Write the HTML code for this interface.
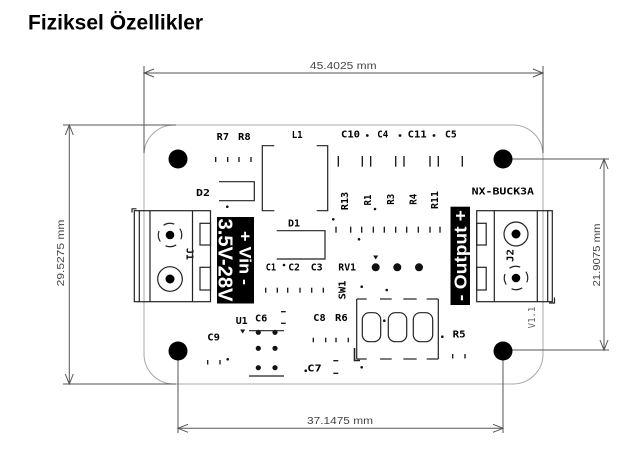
<!DOCTYPE html>
<html><head><meta charset="utf-8"><style>
html,body{margin:0;padding:0;background:#fff;}
svg{display:block;}
.lbl{font-family:"DejaVu Sans Mono","Liberation Mono",monospace;font-weight:bold;font-size:10px;fill:#000;}
.dim{font-family:"Liberation Sans",sans-serif;font-size:10px;fill:#444;}
</style></head><body>
<svg width="644" height="464" viewBox="0 0 644 464" xmlns="http://www.w3.org/2000/svg">
<rect width="644" height="464" fill="#fff"/>
<text x="28" y="29.5" font-family="Liberation Sans, sans-serif" font-weight="bold" font-size="21" fill="#000">Fiziksel Özellikler</text>

<rect x="144" y="125" width="399" height="259" rx="30" ry="30" fill="none" stroke="#a8a8a8" stroke-width="1"/>

<g stroke="#555" stroke-width="1" fill="none">
  <line x1="144" y1="66" x2="144" y2="153"/>
  <line x1="543" y1="66" x2="543" y2="153"/>
  <line x1="144" y1="73" x2="543" y2="73"/>
  <polyline points="154,69 144,73 154,77"/>
  <polyline points="533,69 543,73 533,77"/>
  <line x1="63" y1="125" x2="176" y2="125"/>
  <line x1="63" y1="384" x2="176" y2="384"/>
  <line x1="69.3" y1="125" x2="69.3" y2="384"/>
  <polyline points="65.3,135 69.3,125 73.3,135"/>
  <polyline points="65.3,374 69.3,384 73.3,374"/>
  <line x1="503" y1="159" x2="609" y2="159"/>
  <line x1="503" y1="350" x2="609" y2="350"/>
  <line x1="604" y1="159" x2="604" y2="350"/>
  <polyline points="600,169 604,159 608,169"/>
  <polyline points="600,340 604,350 608,340"/>
  <line x1="178" y1="351" x2="178" y2="433"/>
  <line x1="503" y1="351" x2="503" y2="433"/>
  <line x1="178" y1="428.3" x2="503" y2="428.3"/>
  <polyline points="188,424.3 178,428.3 188,432.3"/>
  <polyline points="493,424.3 503,428.3 493,432.3"/>
</g>
<text class="dim" x="343.3" y="69" text-anchor="middle" textLength="66.7" lengthAdjust="spacingAndGlyphs">45.4025 mm</text>
<text class="dim" transform="translate(64,253) rotate(-90)" text-anchor="middle" textLength="66.7" lengthAdjust="spacingAndGlyphs">29.5275 mm</text>
<text class="dim" transform="translate(600,255) rotate(-90)" text-anchor="middle" textLength="63" lengthAdjust="spacingAndGlyphs">21.9075 mm</text>
<text class="dim" x="340" y="424" text-anchor="middle" textLength="66" lengthAdjust="spacingAndGlyphs">37.1475 mm</text>

<g fill="#000">
  <circle cx="178" cy="159" r="9.5"/>
  <circle cx="503" cy="159" r="9.5"/>
  <circle cx="178" cy="351" r="9.5"/>
  <circle cx="503" cy="351" r="9.5"/>
</g>

<g class="lbl">
  <text x="216.7" y="140" textLength="12.3" lengthAdjust="spacingAndGlyphs">R7</text>
  <text x="238" y="140" textLength="12.7" lengthAdjust="spacingAndGlyphs">R8</text>
  <text x="291.7" y="138" textLength="11" lengthAdjust="spacingAndGlyphs">L1</text>
  <text x="341" y="137.3" textLength="19" lengthAdjust="spacingAndGlyphs">C10</text>
  <text x="377.3" y="137.3" textLength="11" lengthAdjust="spacingAndGlyphs">C4</text>
  <text x="407.7" y="137.3" textLength="19" lengthAdjust="spacingAndGlyphs">C11</text>
  <text x="445" y="137.3" textLength="11.7" lengthAdjust="spacingAndGlyphs">C5</text>
  <text x="196" y="196" textLength="14" lengthAdjust="spacingAndGlyphs">D2</text>
  <text x="288" y="226.7" textLength="12" lengthAdjust="spacingAndGlyphs">D1</text>
  <text x="265.7" y="270.7" textLength="10.3" lengthAdjust="spacingAndGlyphs">C1</text>
  <text x="288.3" y="270.7" textLength="11.7" lengthAdjust="spacingAndGlyphs">C2</text>
  <text x="310.7" y="270.7" textLength="12" lengthAdjust="spacingAndGlyphs">C3</text>
  <text x="338.3" y="270.7" textLength="17.7" lengthAdjust="spacingAndGlyphs">RV1</text>
  <text x="471.7" y="194.3" textLength="62.3" lengthAdjust="spacingAndGlyphs">NX-BUCK3A</text>
  <text x="235.7" y="324" textLength="12" lengthAdjust="spacingAndGlyphs">U1</text>
  <text x="255" y="321.7" textLength="12.3" lengthAdjust="spacingAndGlyphs">C6</text>
  <text x="207.3" y="340.7" textLength="12.7" lengthAdjust="spacingAndGlyphs">C9</text>
  <text x="313.3" y="321" textLength="12.4" lengthAdjust="spacingAndGlyphs">C8</text>
  <text x="335" y="321" textLength="12.7" lengthAdjust="spacingAndGlyphs">R6</text>
  <text x="307.3" y="371.7" textLength="14.4" lengthAdjust="spacingAndGlyphs">C7</text>
  <text x="452.7" y="337.7" textLength="13" lengthAdjust="spacingAndGlyphs">R5</text>
  <text transform="translate(348,201) rotate(-90)" text-anchor="middle" textLength="18.3" lengthAdjust="spacingAndGlyphs">R13</text>
  <text transform="translate(371,200) rotate(-90)" text-anchor="middle" textLength="11" lengthAdjust="spacingAndGlyphs">R1</text>
  <text transform="translate(394,199.3) rotate(-90)" text-anchor="middle" textLength="11" lengthAdjust="spacingAndGlyphs">R3</text>
  <text transform="translate(416.5,199.3) rotate(-90)" text-anchor="middle" textLength="11" lengthAdjust="spacingAndGlyphs">R4</text>
  <text transform="translate(438,200) rotate(-90)" text-anchor="middle" textLength="18" lengthAdjust="spacingAndGlyphs">R11</text>
  <text transform="translate(345.5,290) rotate(-90)" text-anchor="middle" textLength="19" lengthAdjust="spacingAndGlyphs">SW1</text>
  <text transform="translate(513.5,255.5) rotate(-90)" text-anchor="middle" textLength="13" lengthAdjust="spacingAndGlyphs">J2</text>
  <text transform="translate(186.7,254) rotate(90)" text-anchor="middle" textLength="12" lengthAdjust="spacingAndGlyphs">J1</text>
</g>
<text transform="translate(535,317.5) rotate(-90)" text-anchor="middle" textLength="21.7" lengthAdjust="spacingAndGlyphs" font-family="DejaVu Sans Mono, monospace" font-size="9.5" fill="#666">V1.1</text>

<g fill="#111">
  <circle cx="367.3" cy="135.5" r="1.4"/>
  <circle cx="400" cy="135.5" r="1.4"/>
  <circle cx="434" cy="135.5" r="1.4"/>
  <circle cx="227.3" cy="206.7" r="1.3"/>
  <circle cx="333.3" cy="219.3" r="1.3"/>
  <circle cx="375" cy="209" r="1.3"/>
  <circle cx="359" cy="239.3" r="1.3"/>
  <circle cx="284" cy="265" r="1.3"/>
  <circle cx="361.7" cy="286.7" r="1.3"/>
  <circle cx="386.7" cy="290" r="1.3"/>
  <circle cx="384.3" cy="320.7" r="1.3"/>
  <circle cx="442.3" cy="336.7" r="1.3"/>
  <circle cx="361.7" cy="367.3" r="1.3"/>
  <circle cx="227.7" cy="359.3" r="1.3"/>
  <circle cx="305.7" cy="370.7" r="1.3"/>
  <circle cx="375.7" cy="267.3" r="4"/>
  <circle cx="397.3" cy="267.3" r="4"/>
  <circle cx="419" cy="267.3" r="4"/>
  <polygon points="373.2,255.5 378.2,255.5 375.7,259.5"/>
  <circle cx="258.3" cy="332.3" r="2.6"/>
  <circle cx="275" cy="332.3" r="2.6"/>
  <circle cx="258.3" cy="348.3" r="2.6"/>
  <circle cx="275" cy="348.3" r="2.6"/>
  <circle cx="258.3" cy="367.7" r="2.6"/>
  <circle cx="275" cy="367.7" r="2.6"/>
  <polygon points="240.2,329.5 245.2,329.5 242.7,333.5"/>
</g>

<g stroke="#111" stroke-width="1.3">
  <line x1="215.7" y1="157" x2="215.7" y2="162"/>
  <line x1="227.7" y1="157" x2="227.7" y2="162"/>
  <line x1="239" y1="157" x2="239" y2="162"/>
  <line x1="251" y1="157" x2="251" y2="162"/>
  <line x1="338.3" y1="156" x2="338.3" y2="166.7"/>
  <line x1="362.3" y1="156" x2="362.3" y2="166.7"/>
  <line x1="370.7" y1="156" x2="370.7" y2="166.7"/>
  <line x1="395.7" y1="156" x2="395.7" y2="166.7"/>
  <line x1="404" y1="156" x2="404" y2="166.7"/>
  <line x1="430" y1="156" x2="430" y2="166.7"/>
  <line x1="438.3" y1="156" x2="438.3" y2="166.7"/>
  <line x1="462.3" y1="156" x2="462.3" y2="166.7"/>
  <line x1="336" y1="226.7" x2="336" y2="232.7"/>
  <line x1="350.7" y1="226.7" x2="350.7" y2="232.7"/>
  <line x1="361.7" y1="226.7" x2="361.7" y2="232.7"/>
  <line x1="373.3" y1="226.7" x2="373.3" y2="232.7"/>
  <line x1="384.3" y1="226.7" x2="384.3" y2="232.7"/>
  <line x1="395.7" y1="226.7" x2="395.7" y2="232.7"/>
  <line x1="406.7" y1="226.7" x2="406.7" y2="232.7"/>
  <line x1="418.3" y1="226.7" x2="418.3" y2="232.7"/>
  <line x1="430" y1="226.7" x2="430" y2="232.7"/>
  <line x1="440" y1="226.7" x2="440" y2="232.7"/>
  <line x1="265.7" y1="287.7" x2="265.7" y2="292.7"/>
  <line x1="277.3" y1="287.7" x2="277.3" y2="292.7"/>
  <line x1="287.7" y1="287.7" x2="287.7" y2="292.7"/>
  <line x1="300" y1="287.7" x2="300" y2="292.7"/>
  <line x1="311.7" y1="287.7" x2="311.7" y2="292.7"/>
  <line x1="323.3" y1="287.7" x2="323.3" y2="292.7"/>
  <line x1="313.3" y1="337.7" x2="313.3" y2="342.3"/>
  <line x1="325.7" y1="337.7" x2="325.7" y2="342.3"/>
  <line x1="336" y1="337.7" x2="336" y2="342.3"/>
  <line x1="348.3" y1="337.7" x2="348.3" y2="342.3"/>
  <line x1="452.7" y1="354" x2="452.7" y2="358.5"/>
  <line x1="465" y1="354" x2="465" y2="358.5"/>
  <line x1="207.7" y1="360" x2="207.7" y2="364.5"/>
  <line x1="220" y1="360" x2="220" y2="364.5"/>
  <line x1="281" y1="311.7" x2="285.7" y2="311.7"/>
  <line x1="281" y1="323.3" x2="285.7" y2="323.3"/>
  <line x1="333.3" y1="360.7" x2="338.3" y2="360.7"/>
  <line x1="333.3" y1="373.3" x2="338.3" y2="373.3"/>
</g>

<g stroke="#222" stroke-width="1.2" fill="none">
  <polyline points="274.3,145.7 262.3,145.7 262.3,210.7 274.3,210.7"/>
  <polyline points="316.7,145.7 327.7,145.7 327.7,210.7 316.7,210.7"/>
  <polyline points="219,181.7 254.3,181.7 254.3,200.7 219,200.7"/>
  <polyline points="276.7,230.7 325,230.7 325,259 276.7,259"/>
  <line x1="249" y1="330.7" x2="284" y2="330.7"/>
  <line x1="249" y1="376" x2="284" y2="376"/>
  <line x1="356.7" y1="299" x2="356.7" y2="359"/>
  <line x1="438.3" y1="299" x2="438.3" y2="359"/>
  <line x1="356.7" y1="299" x2="366.7" y2="299"/>
  <line x1="380" y1="299" x2="391.7" y2="299"/>
  <line x1="403.3" y1="299" x2="416.7" y2="299"/>
  <line x1="426.7" y1="299" x2="438.3" y2="299"/>
  <line x1="356.7" y1="359" x2="366.7" y2="359"/>
  <line x1="380" y1="359" x2="391.7" y2="359"/>
  <line x1="403.3" y1="359" x2="416.7" y2="359"/>
  <line x1="426.7" y1="359" x2="438.3" y2="359"/>
  <rect x="362.3" y="312.7" width="18.4" height="29" rx="7"/>
  <rect x="388.3" y="312.7" width="18.4" height="29" rx="7"/>
  <rect x="413.3" y="312.7" width="19.4" height="29" rx="7"/>
  <polyline points="354.5,348 354.5,360.5 360,360.5" stroke-width="1.6"/>
  <rect x="134.3" y="210.7" width="76.2" height="91"/>
  <line x1="139.3" y1="210.7" x2="139.3" y2="301.7"/>
  <line x1="150" y1="210.7" x2="150" y2="301.7"/>
  <line x1="192.5" y1="210.7" x2="192.5" y2="301.7"/>
  <rect x="200" y="223.3" width="10.5" height="21.7"/>
  <rect x="200" y="267.3" width="10.5" height="22.7"/>
  <polyline points="132,212.5 132,208.8 136.5,208.8"/>
  <circle cx="170" cy="279" r="12.3"/>
  <circle cx="170" cy="235" r="11.7" stroke-dasharray="11 7.4" transform="rotate(146 170 235)"/>
  <rect x="476.7" y="210.7" width="75.6" height="91"/>
  <line x1="494.3" y1="210.7" x2="494.3" y2="301.7"/>
  <line x1="537.3" y1="210.7" x2="537.3" y2="301.7"/>
  <line x1="547.7" y1="210.7" x2="547.7" y2="301.7"/>
  <rect x="476.7" y="223.3" width="9.5" height="21.7"/>
  <rect x="476.7" y="267.3" width="9.5" height="22.7"/>
  <polyline points="554.5,297.5 554.5,303 549,303"/>
  <circle cx="516" cy="234" r="12"/>
  <circle cx="516" cy="278" r="11.7" stroke-dasharray="11 7.4" transform="rotate(146 516 278)"/>
</g>
<g fill="#000">
  <circle cx="170" cy="235" r="4.3"/>
  <circle cx="170" cy="279" r="4.5"/>
  <circle cx="516" cy="234" r="4.5"/>
  <circle cx="516" cy="278" r="4.3"/>
</g>

<rect x="217" y="217" width="37" height="86.5" fill="#000"/>
<g font-family="Liberation Sans, sans-serif" font-weight="bold" fill="#fff">
  <text transform="translate(239.5,258) rotate(90)" text-anchor="middle" font-size="17" textLength="54" lengthAdjust="spacingAndGlyphs">+ Vin -</text>
  <text transform="translate(218.7,260) rotate(90)" text-anchor="middle" font-size="20" textLength="83" lengthAdjust="spacingAndGlyphs">3.5V-28V</text>
</g>
<rect x="450.5" y="206.7" width="19.5" height="98.3" fill="#000"/>
<text transform="translate(466.5,255.5) rotate(-90)" text-anchor="middle" font-family="Liberation Sans, sans-serif" font-weight="bold" font-size="17.5" fill="#fff" textLength="91" lengthAdjust="spacingAndGlyphs">- Output +</text>
</svg>
</body></html>
